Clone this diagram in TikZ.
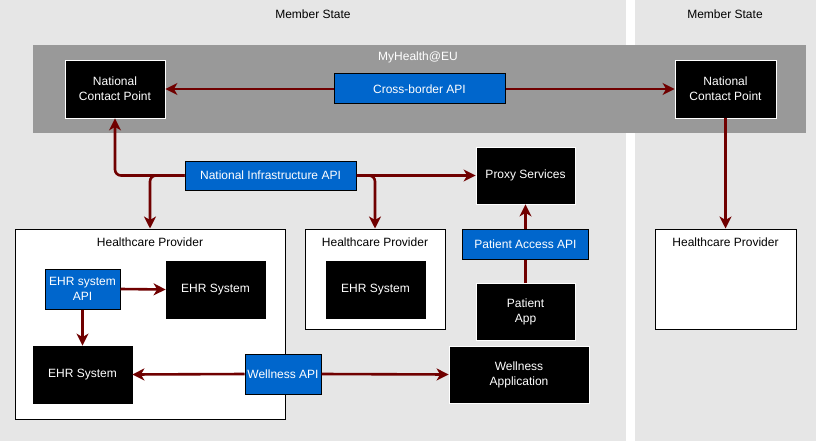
\documentclass[tikz,border=0pt]{standalone}
\usepackage{fontspec}
\setmainfont{Liberation Sans}
\usetikzlibrary{arrows.meta}
\definecolor{bgray}{HTML}{E6E6E6}
\definecolor{bargray}{HTML}{999999}
\definecolor{apiblue}{HTML}{0066CC}
\definecolor{darkred}{HTML}{700000}
\tikzset{
  arr/.style={draw=darkred, line width=2.6pt, rounded corners=6pt, -{Stealth[length=12pt,width=12pt,inset=3.5pt]}},
  plain/.style={draw=darkred, line width=2.6pt},
  blk/.style={fill=black, draw=white, line width=0.8pt, text=white, align=center, inner sep=0pt, font=\fontsize{12}{15}\selectfont},
  ehr/.style={fill=black, draw=black, line width=0.8pt, text=white, align=center, inner sep=0pt, font=\fontsize{12}{15}\selectfont},
  api/.style={fill=apiblue, draw=black, line width=1pt, text=white, align=center, inner sep=0pt, font=\fontsize{12}{15}\selectfont},
  hpbox/.style={fill=white, draw=black, line width=1pt, inner sep=0pt},
  lbl/.style={text=black, inner sep=0pt, font=\fontsize{12}{15}\selectfont},
}
\begin{document}
\begin{tikzpicture}[x=1pt,y=-1pt]
\useasboundingbox (0,0) rectangle (816,441);
\fill[white] (0,0) rectangle (816,441);
% member states
\fill[bgray] (0,0) rectangle (626,441);
\fill[bgray] (635,0) rectangle (816,441);
\node[lbl] (ms1) at (313,14) {Member State};
\node[lbl] (ms2) at (725,14) {Member State};
% MyHealth@EU bar
\fill[bargray] (33,45) rectangle (806,133);
\node[lbl, text=white] (mh) at (418,57) {MyHealth@EU};
\node[blk, minimum width=100pt, minimum height=58pt] (ncp1) at (115,89) {National\\Contact Point};
\node[blk, minimum width=101pt, minimum height=58pt] (ncp2) at (725.5,89) {National\\Contact Point};
\node[api, minimum width=171pt, minimum height=30pt] (cba) at (419.5,89) {Cross-border API};
% infrastructure
\node[api, minimum width=171pt, minimum height=29pt] (nia) at (270.5,175.5) {National Infrastructure API};
\node[blk, minimum width=99pt, minimum height=57pt] (proxy) at (525.5,175.5) {Proxy Services};
% healthcare providers
\node[hpbox, minimum width=270pt, minimum height=190pt] (hp1) at (150,324) {};
\node[lbl] (hp1t) at (150,242) {Healthcare Provider};
\node[hpbox, minimum width=140pt, minimum height=100pt] (hp2) at (375,279) {};
\node[lbl] (hp2t) at (375,242) {Healthcare Provider};
\node[hpbox, minimum width=141pt, minimum height=100pt] (hp3) at (725.5,279) {};
\node[lbl] (hp3t) at (725.5,242) {Healthcare Provider};
% inside HP1
\node[api, minimum width=75pt, minimum height=40pt] (ehrapi) at (82.5,289) {EHR system\\API};
\node[ehr, minimum width=99pt, minimum height=57pt] (ehr1) at (215.5,289.5) {EHR System};
\node[ehr, minimum width=99pt, minimum height=57pt] (ehr2) at (82.5,374.5) {EHR System};
% inside HP2
\node[ehr, minimum width=99pt, minimum height=57pt] (ehr3) at (375.5,289.5) {EHR System};
% patient side
\node[api, minimum width=126pt, minimum height=30pt] (paa) at (525.5,244) {Patient Access API};
\node[blk, minimum width=99pt, minimum height=57pt] (papp) at (525.5,311.5) {Patient\\App};
\node[blk, minimum width=140pt, minimum height=57pt] (wapp) at (519,374.5) {Wellness\\Application};
\node[api, minimum width=76pt, minimum height=40pt] (wapi) at (283,374) {Wellness API};
% connectors
\draw[arr] (cba.west) -- (ncp1.east);
\draw[arr] (cba.east) -- (ncp2.west);
\draw[arr] (ncp2.south) -- (hp3.north);
\draw[arr] (nia.west) -| (ncp1.south);
\draw[arr] (nia.west) -| (hp1.north);
\draw[arr] (nia.east) -| (hp2.north);
\draw[arr] (nia.east) -- (proxy.west);
\draw[arr] (paa.north) -- (proxy.south);
\draw[plain] (papp.north) -- (paa.south);
\draw[arr] (ehrapi.east) -- (ehr1.west);
\draw[arr] (ehrapi.south) -- (ehr2.north);
\draw[arr] (wapi.west) -- (ehr2.east);
\draw[arr] (wapi.east) -- (wapp.west);
\end{tikzpicture}
\end{document}
